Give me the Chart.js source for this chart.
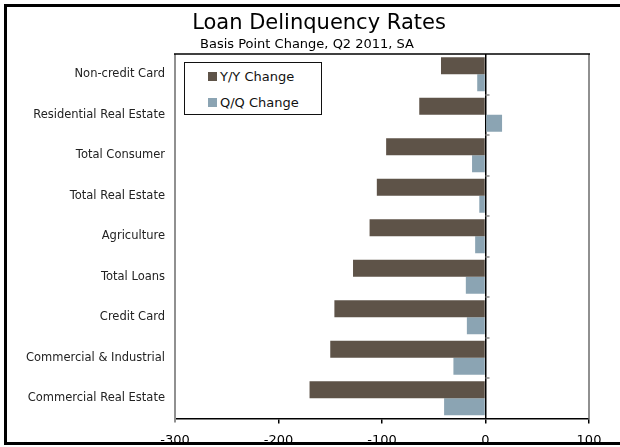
<!DOCTYPE html>
<html>
<head>
<meta charset="utf-8">
<script src="https://cdn.jsdelivr.net/npm/chart.js@4.4.1/dist/chart.umd.min.js"></script>
<style>
  html, body { margin: 0; padding: 0; background: #fff; overflow: hidden; }
  #wrap { position: relative; width: 620px; height: 447px; }
  #frame { position: absolute; left: 4px; top: 4px; width: 700px; height: 441px; box-sizing: border-box;
           border-left: 3px solid #000; border-top: 3px solid #000; border-bottom: 3px solid #000; pointer-events: none; }
  #legend { position: absolute; left: 184px; top: 62px; width: 138px; height: 53px; box-sizing: border-box;
            border: 1.5px solid #111; background: #fff; font-family: "DejaVu Sans", sans-serif; font-size: 13px; color: #111; }
  .item { position: absolute; left: 23px; height: 16px; line-height: 16px; white-space: nowrap; }
  .sw { display: inline-block; width: 9px; height: 9px; margin-right: 3px; vertical-align: -0px; }
</style>
</head>
<body>
<div id="wrap">
  <canvas id="c" width="620" height="447"></canvas>
  <div id="legend"></div>
  <div id="frame"></div>
</div>
<script>
const categories = ["Non-credit Card", "Residential Real Estate", "Total Consumer", "Total Real Estate",
  "Agriculture", "Total Loans", "Credit Card", "Commercial & Industrial", "Commercial Real Estate"];
const yoyChange = [-43, -64, -96, -105, -112, -128, -146, -150, -170];
const qoqChange = [-8, 16, -13, -6, -10, -19, -18, -31, -40];
const xTicks = [-300, -200, -100, 0, 100];
const titleText = "Loan Delinquency Rates";
const subtitleText = "Basis Point Change, Q2 2011, SA";
const seriesNames = ["Y/Y Change", "Q/Q Change"];
const seriesColors = ["#5e5348", "#8ba4b3"];

const FONT = '"DejaVu Sans", sans-serif';

const titlePlugin = {
  id: 'titles',
  afterDraw(chart) {
    const ctx = chart.ctx;
    ctx.save();
    ctx.fillStyle = '#000';
    ctx.textAlign = 'center';
    ctx.textBaseline = 'alphabetic';
    ctx.font = '21px ' + FONT;
    ctx.fillText(titleText, 319, 29);
    ctx.font = '13px ' + FONT;
    ctx.fillText(subtitleText, 307, 48);
    ctx.restore();
  }
};

// plot-area frame: black top edge, grey left/right edges
const plotFrame = {
  id: 'plotFrame',
  beforeDatasetsDraw(chart) {
    const a = chart.chartArea;
    const ctx = chart.ctx;
    ctx.save();
    ctx.lineWidth = 2;
    ctx.strokeStyle = '#909090';
    ctx.beginPath();
    ctx.moveTo(a.left, a.top);
    ctx.lineTo(a.left, a.bottom + 4);
    ctx.moveTo(a.right, a.top);
    ctx.lineTo(a.right, a.bottom);
    ctx.stroke();
    ctx.lineWidth = 1.5;
    ctx.strokeStyle = '#000';
    ctx.beginPath();
    ctx.moveTo(a.left - 1, a.top);
    ctx.lineTo(a.right + 1, a.top);
    ctx.stroke();
    ctx.restore();
  }
};

const zeroTicks = {
  id: 'zeroTicks',
  afterDatasetsDraw(chart) {
    const x = chart.scales.x, y = chart.scales.y;
    const x0 = x.getPixelForValue(0);
    const ctx = chart.ctx;
    ctx.save();
    ctx.strokeStyle = '#888';
    ctx.lineWidth = 1.5;
    for (let i = 1; i < categories.length; i++) {
      const yy = Math.round((y.getPixelForValue(i - 1) + y.getPixelForValue(i)) / 2);
      ctx.beginPath();
      ctx.moveTo(x0, yy);
      ctx.lineTo(x0 + 4, yy);
      ctx.stroke();
    }
    ctx.restore();
  }
};

const chart = new Chart(document.getElementById('c'), {
  type: 'bar',
  data: {
    labels: categories,
    datasets: [
      { label: seriesNames[0], data: yoyChange, backgroundColor: seriesColors[0] },
      { label: seriesNames[1], data: qoqChange, backgroundColor: seriesColors[1] }
    ]
  },
  options: {
    indexAxis: 'y',
    responsive: false,
    animation: false,
    devicePixelRatio: 1,
    datasets: { bar: { categoryPercentage: 0.84, barPercentage: 1.0 } },
    layout: { padding: { top: 54, left: 0, right: 31, bottom: 0 } },
    plugins: { legend: { display: false }, title: { display: false }, tooltip: { enabled: false } },
    scales: {
      x: {
        type: 'linear',
        min: -300, max: 100,
        afterBuildTicks(scale) { scale.ticks = xTicks.map(v => ({ value: v })); },
        afterFit(scale) { scale.height = 28.5; },
        ticks: { color: '#000', font: { family: FONT, size: 13 }, padding: 9 },
        grid: {
          drawOnChartArea: true,
          tickLength: 5,
          color: c => c.tick && c.tick.value === 0 ? '#000' : 'rgba(0,0,0,0)',
          tickColor: c => c.tick && c.tick.value === -300 ? 'rgba(0,0,0,0)' : '#000',
          lineWidth: 1.5
        },
        border: { display: true, color: '#000', width: 1.5 }
      },
      y: {
        type: 'category',
        afterFit(scale) { scale.width = 175; },
        ticks: { color: '#222', font: { family: FONT, size: 11.5 }, padding: 10 },
        grid: { display: false, drawTicks: false },
        border: { display: false }
      }
    }
  },
  plugins: [plotFrame, titlePlugin, zeroTicks]
});

// HTML legend built from the chart's datasets
const lg = document.getElementById('legend');
chart.data.datasets.forEach((ds, i) => {
  const d = document.createElement('div');
  d.className = 'item';
  d.style.top = (i === 0 ? 6 : 32) + 'px';
  d.innerHTML = '<span class="sw" style="background:' + ds.backgroundColor + '"></span>' + ds.label;
  lg.appendChild(d);
});
</script>
</body>
</html>
